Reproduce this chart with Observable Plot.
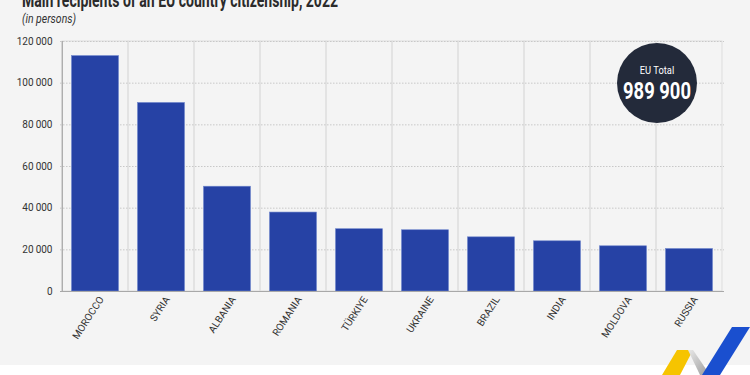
<!DOCTYPE html>
<html>
<head>
<meta charset="utf-8">
<script src="https://cdn.jsdelivr.net/npm/d3@7"></script>
<script src="https://cdn.jsdelivr.net/npm/@observablehq/plot@0.6"></script>
<style>
  html, body { margin: 0; padding: 0; }
  body { width: 750px; height: 375px; overflow: hidden; position: relative; background: #ffffff; font-family: "Roboto", "Noto Sans", sans-serif; }
  #bg { position: absolute; left: 0; top: 0; width: 750px; height: 365px; background: #f4f4f4; }
  #title { position: absolute; left: 22px; top: -12px; font-size: 21px; font-weight: bold; color: #2b2b2b; white-space: nowrap; transform-origin: 0 0; }
  #subtitle { position: absolute; left: 22px; top: 12px; font-size: 12px; font-style: italic; color: #333; white-space: nowrap; transform-origin: 0 0; }
  #chart { position: absolute; left: 0; top: 30px; }
  #total { position: absolute; left: 617px; top: 43px; width: 80px; height: 80px; border-radius: 50%; background: #232a3a; color: #fff; }
  #total .lab { position: absolute; left: 40px; top: 21px; font-size: 11px; white-space: nowrap; transform: translateX(-50%) scaleX(0.85); }
  #total .val { position: absolute; left: 40px; top: 35px; font-size: 23px; font-weight: bold; white-space: nowrap; transform: translateX(-50%) scaleX(0.8); }
  #logo { position: absolute; left: 650px; top: 320px; }
</style>
</head>
<body>
<div id="bg"></div>
<div id="title">Main recipients of an EU country citizenship, 2022</div>
<div id="subtitle">(in persons)</div>
<div id="chart"></div>
<div id="total"><div class="lab">EU Total</div><div class="val">989 900</div></div>
<svg id="logo" width="100" height="55" viewBox="0 0 100 55">
  <defs>
    <linearGradient id="gg" x1="0" y1="0" x2="1" y2="1">
      <stop offset="0" stop-color="#e8e8e8"/><stop offset="1" stop-color="#9a9a9a"/>
    </linearGradient>
  </defs>
  <polygon points="12,55 27,30 43,30 30,55" fill="#f6c400"/>
  <polygon points="38,30 43,30 60,55 50,55" fill="url(#gg)"/>
  <polygon points="52,55 82,7 100,7 70,55" fill="#1a4fcf"/>
</svg>
<script>
const countries = ["MOROCCO", "SYRIA", "ALBANIA", "ROMANIA", "TÜRKIYE", "UKRAINE", "BRAZIL", "INDIA", "MOLDOVA", "RUSSIA"];
const recipients = [113000, 90500, 50300, 37900, 29900, 29400, 26000, 24100, 21700, 20400];
const yTicks = [0, 20000, 40000, 60000, 80000, 100000, 120000];

const data = countries.map((c, i) => ({country: c, value: recipients[i]}));
const fmt = d => d3.format(",")(d).replace(/,/g, "\u2009");

const chart = Plot.plot({
  width: 750,
  height: 345,
  marginLeft: 60,
  marginRight: 26,
  marginTop: 11,
  marginBottom: 84,
  style: {background: "transparent", fontFamily: "Roboto, sans-serif", fontSize: "10px", color: "#333"},
  x: {domain: countries, padding: 0, label: null},
  y: {domain: [0, 120000], label: null},
  marks: [
    Plot.barY(countries, {x: d => d, y1: 0, y2: 120000, fill: "none", stroke: "#dddddd", strokeWidth: 1}),
    Plot.ruleY(yTicks, {y: d => d, stroke: "#c8c8c8", strokeDasharray: "1.5,1.5"}),
    Plot.barY(data, {x: "country", y: "value", fill: "#2642a5", stroke: "#6f86cc", strokeWidth: 0.6, insetLeft: 9.5, insetRight: 9.5}),
    Plot.ruleY([0], {stroke: "#a8a8a8", strokeWidth: 1.2}),
    Plot.ruleX([countries[0]], {x: d => d, dx: -33.2, stroke: "#a8a8a8", strokeWidth: 1.2}),
    Plot.axisY({ticks: yTicks, tickFormat: fmt, tickSize: 0, tickPadding: 8, label: null, fontSize: 10}),
    Plot.axisX({tickSize: 0, tickPadding: 6, tickRotate: -57, label: null, fontSize: 10, dx: 6})
  ]
});
document.getElementById("chart").appendChild(chart);

function fitWidth(id, w) {
  const el = document.getElementById(id);
  const cur = el.getBoundingClientRect().width;
  el.style.transform = `scaleX(${w / cur})`;
}
fitWidth("title", 316);
fitWidth("subtitle", 54);
</script>
</body>
</html>
